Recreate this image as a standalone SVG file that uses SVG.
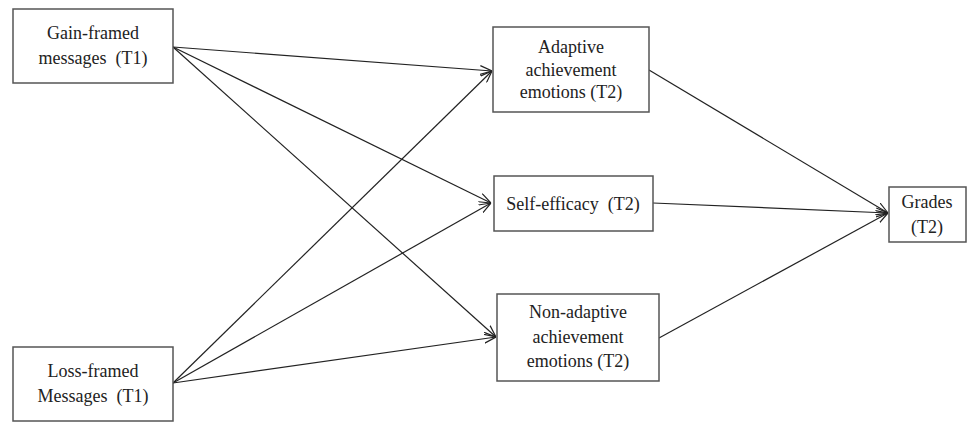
<svg xmlns="http://www.w3.org/2000/svg" width="970" height="423" viewBox="0 0 970 423">
<defs>
<marker id="arr" viewBox="0 0 12 10" refX="12" refY="5" markerWidth="12" markerHeight="10" markerUnits="userSpaceOnUse" orient="auto">
<path d="M0,0.5 L12,5 L0,9.5" fill="none" stroke="#222" stroke-width="1.2"/>
</marker>
<style>
.box{fill:#fff;stroke:#555;stroke-width:1.5}
.t{font-family:"Liberation Serif","Times New Roman",serif;font-size:18px;fill:#222;text-anchor:middle;white-space:pre}
.c line{stroke:#222;stroke-width:1.2;marker-end:url(#arr)}
</style>
</defs>
<rect width="970" height="423" fill="#fff"/>
<g class="c" id="connectors">
<line x1="173" y1="47" x2="492" y2="71"/>
<line x1="173" y1="47" x2="491" y2="203"/>
<line x1="173" y1="47" x2="496" y2="337"/>
<line x1="173" y1="383" x2="492" y2="71"/>
<line x1="173" y1="383" x2="491" y2="203"/>
<line x1="173" y1="383" x2="496" y2="337"/>
<line x1="649" y1="70" x2="888" y2="213"/>
<line x1="653" y1="203" x2="888" y2="213"/>
<line x1="659" y1="338" x2="888" y2="213"/>
</g>
<g id="gain">
<rect class="box" x="13" y="9" width="160" height="74"/>
<text class="t" x="93" y="39">Gain-framed</text>
<text class="t" x="93" y="64">messages  (T1)</text>
</g>
<g id="loss">
<rect class="box" x="13" y="347" width="160" height="74"/>
<text class="t" x="93" y="377">Loss-framed</text>
<text class="t" x="93" y="402">Messages  (T1)</text>
</g>
<g id="adaptive">
<rect class="box" x="493" y="27" width="156" height="85"/>
<text class="t" x="571" y="53">Adaptive</text>
<text class="t" x="571" y="76">achievement</text>
<text class="t" x="571" y="98">emotions (T2)</text>
</g>
<g id="selfefficacy">
<rect class="box" x="494" y="176" width="159" height="55"/>
<text class="t" x="573" y="210">Self-efficacy  (T2)</text>
</g>
<g id="nonadaptive">
<rect class="box" x="497" y="294" width="162" height="87"/>
<text class="t" x="578" y="318">Non-adaptive</text>
<text class="t" x="578" y="343">achievement</text>
<text class="t" x="578" y="367">emotions (T2)</text>
</g>
<g id="grades">
<rect class="box" x="889" y="187" width="77" height="55"/>
<text class="t" x="927" y="208">Grades</text>
<text class="t" x="927" y="233">(T2)</text>
</g>
</svg>
